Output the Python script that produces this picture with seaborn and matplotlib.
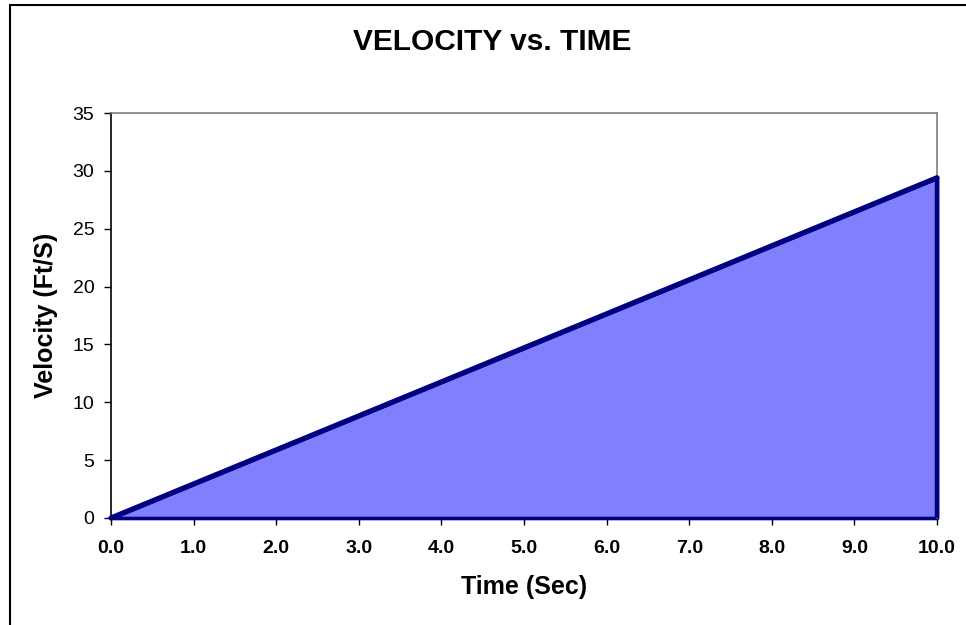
import matplotlib
matplotlib.use("Agg")
import matplotlib.pyplot as plt
import seaborn as sns
import pandas as pd
from matplotlib.lines import Line2D

# Data
time_sec = [0.0, 1.0, 2.0, 3.0, 4.0, 5.0, 6.0, 7.0, 8.0, 9.0, 10.0]
velocity = [0.0, 2.94, 5.88, 8.82, 11.76, 14.7, 17.64, 20.58, 23.52, 26.46, 29.4]
x_tick_labels = ["0.0", "1.0", "2.0", "3.0", "4.0", "5.0", "6.0", "7.0", "8.0", "9.0", "10.0"]
y_ticks = [0, 5, 10, 15, 20, 25, 30, 35]

df = pd.DataFrame({"Time": time_sec, "Velocity": velocity})

sns.set_theme(style="white")
plt.rcParams["font.family"] = ["Liberation Sans", "DejaVu Sans"]
plt.rcParams["text.color"] = "black"
plt.rcParams["xtick.color"] = "black"
plt.rcParams["ytick.color"] = "black"

W, H = 966, 625
fig = plt.figure(figsize=(W / 100, H / 100), dpi=100)
left, right, top, bottom = 111, 937, 113, 518
ax = fig.add_axes([left / W, 1 - bottom / H, (right - left) / W, (bottom - top) / H])

FILL = "#8080FF"
EDGE = "#000080"

ax.fill_between(df["Time"], 0, df["Velocity"], color=FILL, edgecolor=EDGE,
                linewidth=2.6, zorder=2, clip_on=False)
sns.lineplot(data=df, x="Time", y="Velocity", ax=ax, color=EDGE, linewidth=3.8,
             zorder=3, clip_on=False)
ax.plot([time_sec[-1], time_sec[-1]], [0, velocity[-1]], color=EDGE, linewidth=3.2,
        zorder=3, clip_on=False, solid_capstyle="butt")

ax.set_xlim(0, 10)
ax.set_ylim(0, 35)
ax.set_xticks(time_sec)
ax.set_xticklabels(x_tick_labels, fontsize=14, fontweight="bold", color="black")
ax.set_yticks(y_ticks)
ax.set_yticklabels([str(v) for v in y_ticks], fontsize=14, color="black")
ax.tick_params(axis="both", direction="out", length=5, width=1, color="black",
               bottom=True, left=True)
ax.tick_params(axis="x", pad=11)
ax.tick_params(axis="y", pad=7)
ax.set_xlabel("")
ax.set_ylabel("")

for s in ["left", "bottom"]:
    ax.spines[s].set_color("black")
    ax.spines[s].set_linewidth(1.2)
for s in ["top", "right"]:
    ax.spines[s].set_color("#808080")
    ax.spines[s].set_linewidth(1.2)
ax.spines["bottom"].set_zorder(1)

fig.text(492 / W, 1 - 42 / H, "VELOCITY vs. TIME", ha="center", va="center",
         fontsize=21.5, fontweight="bold", color="black")
fig.text(524 / W, 1 - 587 / H, "Time (Sec)", ha="center", va="center",
         fontsize=18, fontweight="bold", color="black")
fig.text(46 / W, 1 - 315 / H, "Velocity (Ft/S)", ha="center", va="center",
         rotation=90, fontsize=18, fontweight="bold", color="black")

# chart-area border
bx, by = 9.5 / W, 1 - 4.5 / H
fig.add_artist(Line2D([bx, bx], [0, by], color="black", linewidth=1.5,
                      transform=fig.transFigure))
fig.add_artist(Line2D([bx, 1], [by, by], color="black", linewidth=1.5,
                      transform=fig.transFigure))

fig.savefig("out.png", dpi=100)
